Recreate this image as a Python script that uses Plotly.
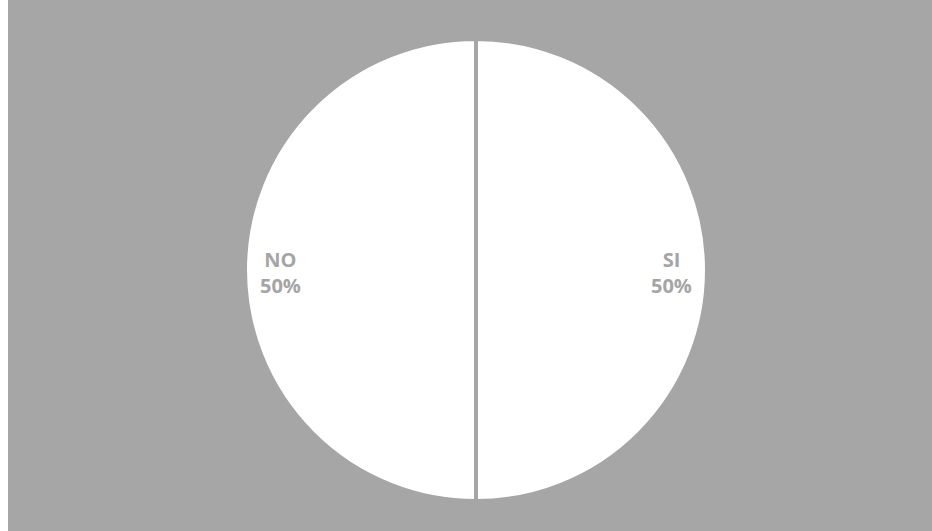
import math
import plotly.graph_objects as go

labels = ['SI', 'NO']
values = [50, 50]

BG = '#A6A6A6'

fig = go.Figure(
    go.Pie(
        labels=labels,
        values=values,
        sort=False,
        direction='clockwise',
        rotation=0,
        textinfo='none',
        hoverinfo='label+percent',
        marker=dict(colors=['#FFFFFF', '#FFFFFF'], line=dict(color=BG, width=4)),
        showlegend=False,
    )
)

# data labels placed near the outer edge of each slice, like the original
total = sum(values)
plot_w, plot_h = 912, 462
radius = plot_h / 2
start = 90.0
for lab, val in zip(labels, values):
    mid = start - 360 * (val / 2) / total
    start -= 360 * val / total
    ang = math.radians(mid)
    px = 0.5 + 0.845 * radius * math.cos(ang) / plot_w
    py = 0.495 + 0.845 * radius * math.sin(ang) / plot_h
    fig.add_annotation(
        x=px, y=py, xref='paper', yref='paper',
        xanchor='center', yanchor='middle',
        text=f'<b>{lab}<br>{round(100 * val / total)}%</b>',
        showarrow=False,
        font=dict(family='Open Sans', size=20, color='#A5A5A5'),
        align='center',
    )

fig.update_layout(
    width=924,
    height=531,
    margin=dict(l=12, r=0, t=39, b=30),
    paper_bgcolor=BG,
    plot_bgcolor=BG,
)

fig.write_html("out.html", post_script="document.body.style.margin='0 0 0 8px';")
